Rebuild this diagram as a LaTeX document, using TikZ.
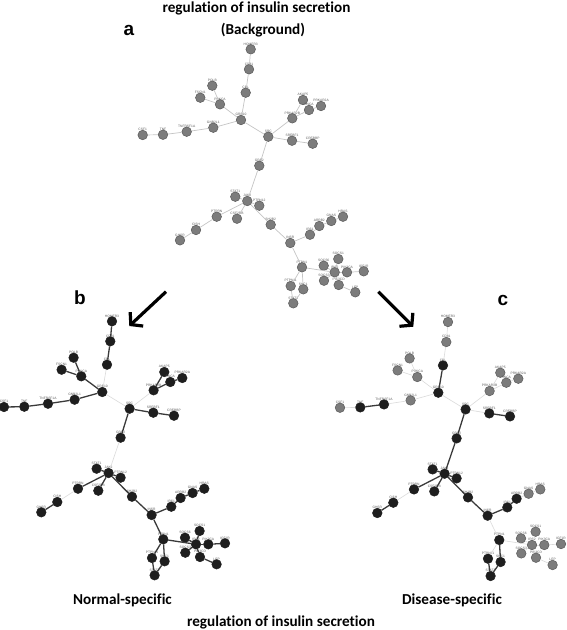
\documentclass[tikz,border=0pt]{standalone}
\usepackage{fontspec}
\setmainfont{Carlito}[Ligatures=NoCommon]
\newfontfamily\panelfont{Liberation Sans}
\newfontfamily\lblfont{Liberation Sans}
\usetikzlibrary{arrows.meta}
\definecolor{ngray}{HTML}{7C7C7C}
\definecolor{ngrayd}{HTML}{5A5A5A}
\definecolor{nblack}{HTML}{1E1E1E}
\definecolor{elight}{HTML}{C4C4C4}
\definecolor{efaint}{HTML}{DADADA}
\definecolor{edark}{HTML}{3A3A3A}
\tikzset{
  nbase/.style={circle,inner sep=0pt,minimum size=9.6pt},
  ngr/.style={nbase,fill=ngray,draw=ngrayd,line width=0.5pt},
  nbk/.style={nbase,fill=nblack,draw=nblack,line width=0.5pt},
  nodeag/.style={ngr}, nodeak/.style={ngr},
  nodebg/.style={nbk}, nodebk/.style={nbk},
  nodecg/.style={ngr}, nodeck/.style={nbk},
  ea/.style={draw=elight,line width=0.7pt},
  ed/.style={draw=edark,line width=1.3pt},
  el/.style={draw=efaint,line width=0.6pt},
  edgeadd/.style={ea}, edgeadl/.style={ea}, edgeald/.style={ea}, edgeall/.style={ea},
  edgebdd/.style={ed}, edgebdl/.style={ed}, edgebld/.style={el}, edgebll/.style={el},
  edgecdd/.style={ed}, edgecld/.style={ed}, edgecdl/.style={el}, edgecll/.style={el},
  lbl/.style={font=\lblfont\fontsize{3.3}{3.5}\selectfont,text=black!65,inner sep=0pt},
  title/.style={font=\bfseries\fontsize{15.2}{17}\selectfont,inner sep=0pt},
  panel/.style={font=\panelfont\bfseries\fontsize{19}{20}\selectfont,inner sep=0pt},
  bigarrow/.style={line width=3.2pt,-{Straight Barb[length=8pt,width=19pt]}}
}
\newcommand\netgraph[3]{%
\begin{scope}[shift={(#2,#3)},name prefix=#1-]
\foreach \nn/\x/\y/\lab/\cs in {
 homer/250.7/49.3/HOMER3/g, cd81/249/69.3/CD81/g, cbl/245.7/92.7/CBL/k,
 polb/212.3/85.7/POLB/g, fscn/200.3/97.7/FSCN1/g, pik3ca/220/104.3/PRKCA/g,
 grb/241/120/GRB10/k, gnb/213.3/127.7/GNB2L1/g, tnfr/186.7/131.7/TNFRSF1A/k,
 tnf/163/134.7/TNF/k, csf/142.7/135/CSF1/g, src/268.3/136.7/SRC/k,
 prkarb/292.3/118.3/PRKAR2B/g, akap/303/100/AKAP5/g, prkca/309/110/SNCA/g,
 prkara/321/106/PRKAR2A/g, srebf/292/140.7/SREBF1/k, crebbp/312.7/143.7/CREBBP/k,
 grbb/259.3/165.7/GRB2/k, stat1/235.3/196.7/STAT1/k, jak2/247.3/201/JAK2/k,
 ptpn12/259.3/205.7/PTPN12/k, ptpn11/216.7/216.7/PTPRN/k, csf2rb/237/218.7/CSF2RB/k,
 cish/196/230/CISH/k, ghr/180/240.3/GHSR/k, elav/270.7/224.7/SH2B2/k,
 insr/290.3/243/INSR/k, irs/310/234.7/IRS1/k, arrb/319.3/226/ARRB2/k,
 gnas/331.3/221/GNAS/g, hras/343/216.7/HRAS/g, ptpn1/302/267.3/PTPN1/k,
 socs6/323.7/265.7/SOCS6/g, socs1/338.3/259/SOCS1/g, irs2/334.7/272.3/IRS2/g,
 pikca/347/272.3/PIK3CA/g, igf1r/363.7/271.3/IGF1R/g, socs3/324/280.7/SOCS3/g,
 pikcd/338.7/285/PIK3CD/g, lep/355.3/292.3/LEP/g, ptpnb/290.7/286/PTPN11/k,
 shc/303.3/289.3/SHC1/k, stat3/293.3/303.3/STAT3/k}
 {\node[node#1\cs,label={[lbl,label distance=-1.2pt]90:\lab}] (\nn) at (\x,\y) {};}
\foreach \u/\v/\bs/\cs in {
 homer/cd81/d/l, cd81/cbl/d/l, cbl/grb/l/d, polb/pik3ca/d/l, fscn/pik3ca/d/l,
 pik3ca/grb/d/l, grb/gnb/d/l, gnb/tnfr/d/l, tnfr/tnf/d/d, tnf/csf/d/l,
 grb/src/l/l, src/prkarb/l/l, prkarb/akap/d/l, prkarb/prkca/d/l, prkca/prkara/d/l,
 src/srebf/d/l, srebf/crebbp/d/d, src/grbb/d/d, grbb/jak2/l/d,
 jak2/stat1/d/d, jak2/ptpn12/d/d, jak2/csf2rb/d/d, jak2/ptpn11/d/d,
 ptpn11/cish/l/l, cish/ghr/d/d, jak2/elav/d/d, elav/insr/d/d, insr/irs/d/d,
 irs/arrb/d/d, arrb/gnas/d/l, gnas/hras/d/l, insr/ptpn1/d/l, ptpn1/irs2/d/l,
 irs2/socs6/d/l, irs2/socs1/d/l, irs2/pikca/d/l, irs2/socs3/d/l, irs2/pikcd/d/l,
 pikca/igf1r/d/l, pikcd/lep/d/l, ptpn1/ptpnb/d/l, ptpn1/shc/d/d,
 ptpnb/stat3/d/d, shc/stat3/d/d}
 {\draw[edge#1\bs\cs] (\u) -- (\v);}
\end{scope}}
\begin{document}
\begin{tikzpicture}[x=1pt,y=-1pt]
\useasboundingbox (0,0) rectangle (567,630);
\node[title] (t1) at (256.5,8) {regulation of insulin secretion};
\node[title] (t2) at (263,30) {(Background)};
\node[panel] (pa) at (129,30) {a};
\node[panel] (pb) at (80,298) {b};
\node[panel] (pc) at (503,300) {c};
\netgraph{a}{0}{0}
\netgraph{b}{-138.7}{272}
\netgraph{c}{197.3}{272.7}
\coordinate (ab1) at (166,291.7);
\coordinate (ab2) at (129.3,326);
\coordinate (ac1) at (378.3,291.7);
\coordinate (ac2) at (413.3,326.7);
\draw[bigarrow] (ab1) -- (ab2);
\draw[bigarrow] (ac1) -- (ac2);
\node[title] (nl) at (122.5,600) {Normal-specific};
\node[title] (dl) at (452,600) {Disease-specific};
\node[title] (t3) at (281,622) {regulation of insulin secretion};
\end{tikzpicture}
\end{document}
